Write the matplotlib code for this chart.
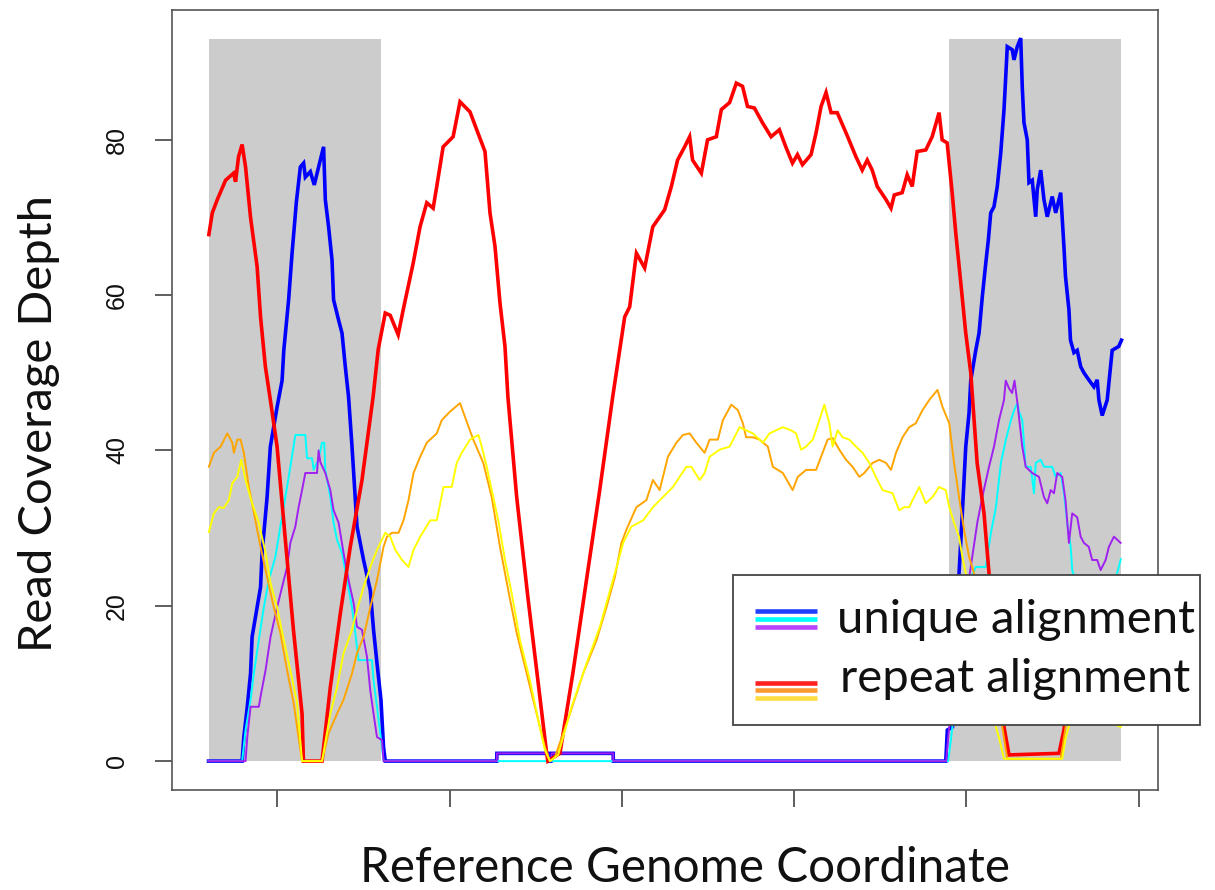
import matplotlib
matplotlib.use("Agg")
import matplotlib.pyplot as plt
from matplotlib import font_manager
from matplotlib.patches import Rectangle
from matplotlib.lines import Line2D

# ---------------- data (genome coordinate, coverage depth) ----------------
gray_regions = [(60, 160), (490, 590)]
gray_top = 93
x_ticks = [100, 200, 300, 400, 500, 600]
y_ticks = [0, 20, 40, 60, 80]

blue_x = [60.0, 79.5, 80.5, 82.5, 84.4, 85.3, 88.2, 90.2, 91.1, 94.0, 95.9, 99.8, 102.7, 103.7, 106.5,
          108.5, 111.0, 113.3, 115.2, 116.2, 119.1, 121.4, 123.9, 126.8, 127.8, 129.7, 131.7, 132.6,
          135.5, 137.5, 139.4, 141.3, 143.3, 146.2, 150.0, 153.9, 155.8, 157.8, 160.1, 161.6, 162.6,
          227.3, 227.4, 257.2, 257.6, 258.8, 259.2, 294.9, 295.0, 488.0,
          488.9, 491.9, 495.7, 497.6, 499.6, 501.5, 502.5, 505.4, 507.3, 509.2, 511.2, 512.7, 514.1,
          516.0, 517.9, 519.9, 521.8, 522.8, 523.7, 526.6, 527.6, 529.5, 531.5, 532.4, 533.4, 535.3,
          536.3, 538.2, 540.2, 541.1, 543.1, 545.0, 546.9, 549.8, 551.8, 554.7, 556.6, 557.5, 559.5,
          560.4, 562.4, 564.3, 566.3, 568.2, 571.0, 574.0, 575.9, 576.9, 578.8, 581.7, 584.6, 588.4, 590.0]
blue_y = [0, 0, 3.1, 7, 11.3, 16, 19.8, 22.4, 26.8, 34, 40.5, 45.6, 49, 52.9, 59.4,
          65.4, 72, 76.5, 77, 75.2, 75.9, 74.2, 76.5, 79.1, 72.3, 68.8, 64.5, 59.4,
          56.8, 55.1, 50.8, 46.9, 40.5, 30.2, 25.9, 22, 16.9, 12.6, 7.9, 1.8, 0,
          0, 1, 1, 0, 0, 1, 1, 0, 0,
          4, 4.4, 24.2, 31.9, 40.5, 44.8, 49, 52.9, 55.1, 59.8, 64.1, 67.1, 70.6,
          71.4, 74, 78.3, 83.9, 88.1, 92, 91.6, 90.3, 92, 93.1, 86.8, 82.2, 80,
          74.5, 74.8, 70.1, 73.6, 76.1, 72.3, 70.1, 72.7, 70.6, 73.2, 66.2, 62.4, 58.1,
          54.2, 52.6, 52.9, 50.8, 50, 49.1, 48.2, 49.1, 46.5, 44.5, 46.5, 52.9, 53.4, 54.2]

cyan_x = [60.0, 79.5, 81.5, 84.4, 86.3, 89.2, 92.1, 95.0, 98.8, 101.7, 104.6, 107.5, 110.4, 116.2,
          117.2, 120.1, 121.0, 123.7, 125.9, 127.2, 127.8, 130.7, 132.6, 134.6, 137.5, 140.4, 143.3,
          145.2, 147.1, 154.9, 155.8, 157.8, 159.7, 161.6, 489.4,
          491.1, 495.7, 503.5, 505.4, 511.2, 514.2, 517.1, 520.0, 522.9, 525.8, 527.7, 529.6, 530.6,
          532.4, 534.4, 537.3, 539.2, 540.2, 543.1, 545.0, 549.8, 551.8, 554.7, 556.6, 558.5, 560.5,
          561.4, 568.2, 576.9, 582.7, 587.5, 589.6]
cyan_y = [0, 0, 4, 7.9, 11.3, 15.6, 19.8, 23.3, 26.3, 30.2, 34, 37.9, 42, 42,
          39, 39, 37.5, 38.8, 41, 41, 37.5, 34, 30.7, 28.5, 26.8, 23.3, 19.8,
          16.5, 13, 13, 10.4, 7, 3.6, 0, 0,
          3, 12, 24, 25, 25, 29.4, 32.7, 38.4, 41.4, 43.9, 45.2, 46.1, 45,
          43.9, 37.9, 37.9, 34.5, 38.4, 38.8, 37.9, 37.9, 36.6, 37.1, 34.5, 30.7, 27.6,
          24.6, 19, 17, 20, 24.2, 26]

purple_x = [60.0, 81.5, 82.5, 84.4, 89.2, 90.2, 93.1, 96.0, 99.8, 102.7, 105.6, 107.5, 110.4, 112.3,
            114.3, 116.2, 123.0, 123.9, 124.9, 127.8, 130.7, 132.6, 135.5, 138.4, 141.3, 144.2, 146.2,
            149.1, 152.0, 153.9, 155.8, 157.8, 160.7, 161.6,
            227.3, 227.4, 257.2, 257.6, 258.8, 259.2, 294.9, 295.0, 488.2,
            490.0, 495.7, 499.8, 502.5, 506.3, 509.2, 513.1, 516.0, 518.9, 521.8, 522.8, 524.7, 526.5,
            527.9, 529.6, 532.4, 534.4, 538.2, 542.1, 545.0, 546.9, 548.9, 550.8, 552.7, 555.6, 557.5,
            559.5, 561.4, 564.3, 566.3, 568.2, 571.0, 573.0, 575.9, 577.9, 580.8, 582.7, 585.6, 589.5]
purple_y = [0, 0, 3.1, 7, 7, 8.3, 11.7, 16, 19.8, 22.4, 25, 28.1, 30.2, 32.7,
            34.9, 37.1, 37.1, 40, 38.5, 37.1, 34.9, 32.3, 30.7, 26.8, 23.3, 20.4, 17.3,
            16.9, 13.4, 9.1, 6.1, 3.1, 2.7, 0,
            0, 1, 1, 0, 0, 1, 1, 0, 0,
            4.4, 15, 21, 25, 30.7, 34, 37.9, 40.5, 43.9, 46.5, 49, 48, 47.4,
            49, 46.1, 40.5, 37.9, 37.1, 36.6, 34, 33.2, 34.9, 34.5, 37.1, 36.6, 33.6,
            28.1, 31.9, 31.4, 28.9, 28.1, 27.6, 25.9, 25.9, 24.6, 25.9, 27.6, 28.9, 28.1]

red_x = [60.2, 62.2, 65.1, 69.9, 74.5, 75.7, 77.4, 79.5, 81.5, 84.4, 88.2, 90.2, 93.0, 95.9, 99.8,
         104.6, 109.3, 114.3, 115.1, 125.9, 130.7, 136.5, 142.3, 149.1, 155.6, 158.5, 162.6, 165.5,
         170.1, 173.0, 178.8, 182.8, 186.7, 190.4, 192.5, 196.2, 202.0, 206.0, 211.8, 215.7, 220.5,
         223.4, 226.3, 229.2, 232.1, 233.8, 238.9, 245.4, 251.2, 256.3, 257.0, 264.0, 271.5, 279.4,
         287.1, 294.7, 297.6, 301.6, 304.5, 308.4, 313.2, 317.9, 324.8, 328.7, 332.3, 336.4, 339.3,
         341.0, 346.1, 349.7, 354.8, 357.7, 362.5, 366.4, 370.0, 372.9, 376.9, 381.6, 386.6, 391.4,
         395.3, 399.0, 401.9, 404.8, 409.8, 412.7, 415.6, 418.5, 421.4, 425.0, 430.1, 435.9, 439.5,
         442.4, 445.3, 448.2, 453.3, 456.2, 458.1, 462.7, 465.6, 468.5, 471.4, 476.4, 480.1, 484.1,
         485.9, 488.8, 491.7, 493.8, 496.7, 499.6, 502.5, 506.2, 510.2, 513.1, 521.8, 524.7, 553.7,
         556.6, 562.4, 571.0, 589.6]
red_y = [67.8, 70.6, 72.3, 74.8, 75.7, 74.6, 77.8, 79.4, 76.5, 70, 63.7, 57.2, 50.8, 46.5, 40.5,
         28.5, 16.9, 6.1, 0, 0, 9.5, 19, 27.6, 36.2, 47, 53, 57.7, 57.4,
         54.9, 58.1, 64.1, 68.8, 71.9, 71.2, 74, 79.1, 80.4, 84.9, 83.6, 81.3, 78.5,
         70.6, 66.3, 59, 53.4, 46.9, 34, 21.1, 10.4, 1, 0, 1, 11.3, 23.3,
         34.9, 47, 51.3, 57.2, 58.5, 65.4, 63.5, 68.8, 71, 74, 77.4, 79.1, 80.4,
         77.4, 75.7, 80, 80.4, 83.9, 84.8, 87.3, 86.9, 84.3, 84.1, 82.2, 80.4, 81.3,
         79, 77, 78.1, 76.8, 78.1, 80.9, 84.3, 86.1, 83.5, 83.5, 80.9, 77.8, 76.1,
         77.4, 76.1, 74, 72.3, 71.2, 72.9, 73.2, 75.5, 74, 78.5, 78.7, 80.4, 83.5,
         80, 79.6, 73.2, 68, 61.6, 55.1, 50, 38.4, 31.9, 24.2, 4.4, 0.8, 1,
         4, 15, 18, 19]

orange_x = [60.2, 63.1, 67.0, 70.9, 73.8, 74.7, 76.7, 78.6, 80.5, 83.4, 87.2, 90.2, 94.0, 97.9, 101.7,
            105.6, 109.4, 114.3, 125.9, 129.7, 134.6, 138.4, 143.3, 146.2, 150.0, 153.9, 157.8, 161.6,
            163.6, 166.5, 170.3, 173.2, 176.1, 179.0, 182.9, 186.7, 192.5, 195.4, 200.2, 206.0, 209.9,
            213.7, 219.5, 224.4, 229.2, 234.0, 238.9, 244.7, 250.5, 255.3, 258.2, 261.1, 269.8, 277.5,
            285.3, 291.0, 295.9, 299.7, 302.6, 308.4, 314.2, 318.0, 321.9, 326.7, 331.6, 335.4, 339.3,
            343.2, 348.0, 350.9, 355.7, 358.6, 363.5, 367.3, 370.2, 372.1, 376.0, 379.9, 384.7, 387.6,
            393.4, 399.1, 402.1, 406.9, 412.7, 415.6, 419.4, 422.3, 426.2, 430.1, 433.9, 437.8, 440.7,
            445.5, 449.4, 453.3, 456.2, 459.1, 462.9, 466.8, 470.6, 474.5, 478.4, 483.2, 486.1, 490.0,
            492.8, 495.7, 498.6, 501.5, 504.4, 513.1, 520.8, 523.7, 554.7, 557.6, 565.3, 574.0, 589.6]
orange_y = [37.9, 39.7, 40.5, 42.2, 41, 39.7, 41.4, 41.4, 39.7, 35.3, 31, 27.6, 23.7, 19.8, 16.5,
            11.7, 7.5, 0, 0, 3.6, 6.1, 7.9, 11.3, 13.9, 16, 19.8, 23.3, 27.6,
            28.9, 29.4, 29.4, 31, 33.6, 37.1, 39.2, 41, 42.2, 43.9, 45, 46.1, 43.7,
            41.4, 38.4, 34, 27.6, 22, 16.5, 11.3, 6.1, 1.8, 0, 0.5, 6.1, 11.3,
            15.6, 19.8, 23.7, 28.1, 29.8, 32.7, 33.6, 36.2, 34.9, 39.2, 41, 42, 42.2,
            41, 39.7, 41.4, 41.4, 43.9, 45.9, 45.2, 43.5, 41.7, 41.7, 41.4, 40.5, 37.9,
            37.1, 34.9, 36.6, 37.5, 37.5, 39.2, 41.4, 41.6, 40.1, 38.8, 37.9, 36.6, 37.1,
            38.4, 38.8, 38.4, 37.5, 39.7, 41.7, 43, 43.5, 45.2, 46.5, 47.8, 45.6, 43.5,
            38.4, 34, 29.8, 26.3, 24.2, 12, 4.4, 0.3, 0.3, 4.4, 12, 14, 10]

yellow_x = [60.2, 63.1, 66.0, 68.9, 71.8, 73.8, 76.7, 79.0, 81.5, 85.3, 89.2, 93.1, 96.0, 99.8, 103.7,
            107.5, 111.4, 114.3, 125.9, 130.7, 134.6, 138.4, 143.3, 146.2, 150.0, 153.9, 157.8, 162.6,
            165.5, 168.4, 172.3, 176.1, 179.0, 182.9, 188.7, 192.5, 196.4, 201.2, 204.1, 207.0, 211.8,
            216.7, 218.6, 221.5, 224.4, 228.2, 232.1, 236.0, 240.8, 246.6, 251.4, 255.3, 258.2, 263.0,
            270.8, 279.5, 287.2, 292.0, 296.9, 300.7, 305.5, 312.3, 318.0, 323.8, 329.6, 333.5, 337.4,
            340.3, 345.1, 348.0, 350.9, 356.7, 362.5, 368.3, 372.1, 376.0, 381.8, 385.7, 389.5, 393.4,
            398.2, 401.1, 404.0, 406.9, 410.8, 414.6, 417.5, 420.4, 422.3, 425.2, 428.1, 432.0, 435.9,
            439.7, 443.6, 447.4, 451.3, 457.1, 460.9, 463.8, 466.8, 468.7, 472.6, 476.4, 480.3, 484.1,
            488.0, 490.0, 492.8, 495.7, 497.6, 499.6, 510.2, 518.9, 521.8, 555.6, 557.6, 565.3, 574.0,
            582.7, 589.6]
yellow_y = [29.5, 31.9, 32.7, 32.6, 33.6, 35.8, 36.6, 38.8, 36.2, 33.2, 30.7, 26.8, 22.9, 19.8, 15.6,
            11.7, 7.5, 0, 0, 6.1, 9.5, 13.9, 16.9, 19.5, 22.4, 25, 27.2, 29.4,
            28.9, 27.2, 25.9, 25, 27.2, 28.9, 31, 31, 35.3, 35.3, 38.4, 39.7, 41.4,
            42, 40.5, 37.9, 34.9, 31, 25.9, 21.6, 15.6, 10.4, 5.3, 1.4, 0, 0.8,
            7, 12.6, 17.3, 21.1, 25, 28.1, 30.2, 31, 32.7, 34, 35.3, 36.6, 37.9,
            37.9, 36.2, 37.1, 39.2, 40.1, 40.5, 43, 42.6, 42.2, 41, 42.2, 42.6, 43,
            42.6, 42.2, 40.1, 40.5, 41.4, 43.9, 45.9, 43.5, 40.5, 42.6, 41.7, 41.4, 40.5,
            39.7, 38.4, 36.6, 34.9, 34.5, 32.3, 32.7, 32.7, 33.6, 35.3, 33.2, 34, 35.3,
            34.9, 32.7, 30.7, 28.9, 26.3, 24.2, 10, 3, 0.3, 0.3, 3, 9, 8,
            5, 4.4]

legend_labels = ["unique alignment", "repeat alignment"]
x_label = "Reference Genome Coordinate"
y_label = "Read Coverage Depth"

# ---------------- styling ----------------
W, H, DPI = 1215, 890, 100
names = {f.name for f in font_manager.fontManager.ttflist}
tick_font = "Liberation Sans Narrow" if "Liberation Sans Narrow" in names else "Liberation Sans"
label_font = "Lato" if "Lato" in names else "DejaVu Sans"

fig = plt.figure(figsize=(W / DPI, H / DPI), dpi=DPI)
fig.patch.set_facecolor("white")


def fx(px):
    return px / W


def fy(py):
    return 1 - py / H


ax = fig.add_axes([fx(172), fy(790), (1158 - 172) / W, 780 / H])
ax.set_xlim(38.8, 611.2)
ax.set_ylim(-3.72, 96.72)

for (a, b) in gray_regions:
    ax.fill_between([a, b], 0, gray_top, color="#cccccc", lw=0, zorder=1)

thick, thin = 2.6, 1.4
ax.plot(blue_x, blue_y, color="#0000ff", lw=thick, zorder=2, solid_joinstyle="miter")
ax.plot(cyan_x, cyan_y, color="#00ffff", lw=thin, zorder=3)
ax.plot(purple_x, purple_y, color="#a020f0", lw=thin, zorder=4)
ax.plot(red_x, red_y, color="#ff0000", lw=thick, zorder=5, solid_joinstyle="miter")
ax.plot(orange_x, orange_y, color="#ffa500", lw=thin, zorder=6)
ax.plot(yellow_x, yellow_y, color="#ffff00", lw=thin, zorder=7)

ax.set_xticks(x_ticks)
ax.set_xticklabels([])
ax.set_yticks(y_ticks)
ax.set_yticklabels([str(v) for v in y_ticks], family=tick_font, fontsize=18,
                   rotation=90, va="center", color="#111111")
ax.tick_params(axis="both", length=12, width=1.1, color="#333333", direction="out")
ax.tick_params(axis="y", pad=19)
for s in ax.spines.values():
    s.set_color("#555555")
    s.set_linewidth(1.2)

renderer = fig.canvas.get_renderer()


def fitted_size(text, family, target_w, start=30):
    t = fig.text(0, 0, text, family=family, fontsize=start)
    w = t.get_window_extent(renderer).width
    t.remove()
    return start * target_w / w


lab_size = fitted_size(x_label, label_font, 650)
fig.text(fx(685), fy(882), x_label, family=label_font, fontsize=lab_size,
         ha="center", va="baseline", color="#111111")
ysize = fitted_size(y_label, label_font, 455)
fig.text(fx(52), fy(423), y_label, family=label_font, fontsize=ysize, rotation=90,
         rotation_mode="anchor", ha="center", va="baseline", color="#111111")

# legend box (extends beyond the plot frame as in the reference)
box = Rectangle((fx(733), fy(725)), (1200 - 733) / W, 150 / H, transform=fig.transFigure,
                facecolor="white", edgecolor="#444444", lw=1.3, zorder=10)
fig.add_artist(box)
leg_groups = [
    (["#2040ff", "#00ffff", "#b845ff"], [611, 619, 626.7], 633, 837),
    (["#ff2020", "#ff9a33", "#ffdd40"], [683, 690.3, 698], 692, 840),
]
leg_size = fitted_size(legend_labels[0], label_font, 357)
for (cols, ys, base, tx), lab in zip(leg_groups, legend_labels):
    for c, yy in zip(cols, ys):
        fig.add_artist(Line2D([fx(755), fx(817)], [fy(yy), fy(yy)], transform=fig.transFigure,
                              color=c, lw=3.3, solid_capstyle="butt", zorder=11))
    fig.text(fx(tx), fy(base), lab, family=label_font, fontsize=leg_size,
             ha="left", va="baseline", color="#111111", zorder=12)

fig.savefig("out.png", dpi=DPI)
